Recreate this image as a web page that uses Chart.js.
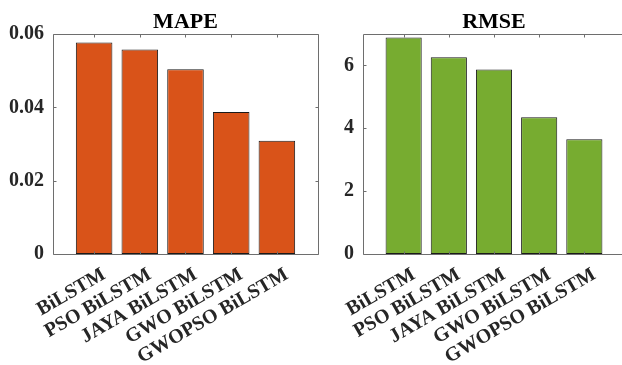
<!DOCTYPE html>
<html>
<head>
<meta charset="utf-8">
<script src="https://cdn.jsdelivr.net/npm/chart.js@4/dist/chart.umd.min.js"></script>
<style>
  html, body { margin: 0; padding: 0; background: #fff; }
  body { width: 622px; height: 365px; overflow: hidden; position: relative; }
  canvas { position: absolute; top: 0; }
  #mapeChart { left: 0; }
  #rmseChart { left: 310px; }
</style>
</head>
<body>
<canvas id="mapeChart" width="330" height="365"></canvas>
<canvas id="rmseChart" width="330" height="365"></canvas>
<script>
// Models compared
const categories = ['BiLSTM', 'PSO BiLSTM', 'JAYA BiLSTM', 'GWO BiLSTM', 'GWOPSO BiLSTM'];

// Error metrics per model
const mapeValues = [0.0577, 0.0558, 0.0504, 0.0387, 0.0309];
const rmseValues = [6.89, 6.26, 5.87, 4.35, 3.65];

// Y-axis tick values
const mapeTicks = [0, 0.02, 0.04, 0.06];
const rmseTicks = [0, 2, 4, 6];

const FONT = '"Liberation Serif", "Times New Roman", serif';
const TICK_LEN = 3;
const BOX_COLOR = '#6e6e6e';

// Draws the axes box plus inward tick marks on all four sides
const boxPlugin = {
  id: 'axesBox',
  afterDatasetsDraw(chart) {
    const { ctx, chartArea: a, scales } = chart;
    ctx.save();
    ctx.strokeStyle = BOX_COLOR;
    ctx.lineWidth = 1;
    const l = Math.round(a.left) + 0.5, r = Math.round(a.right) + 0.5;
    const t = Math.round(a.top) + 0.5, b = Math.round(a.bottom) + 0.5;
    ctx.beginPath();
    ctx.rect(l, t, r - l, b - t);
    scales.x.ticks.forEach(tk => {
      const x = Math.round(scales.x.getPixelForValue(tk.value)) + 0.5;
      ctx.moveTo(x, b); ctx.lineTo(x, b - TICK_LEN);
      ctx.moveTo(x, t); ctx.lineTo(x, t + TICK_LEN);
    });
    scales.y.ticks.forEach(tk => {
      const y = Math.round(scales.y.getPixelForValue(tk.value)) + 0.5;
      ctx.moveTo(l, y); ctx.lineTo(l + TICK_LEN, y);
      ctx.moveTo(r, y); ctx.lineTo(r - TICK_LEN, y);
    });
    ctx.stroke();
    ctx.restore();
  }
};

// Title centred over the plotting area
const axesTitlePlugin = {
  id: 'axesTitle',
  afterDraw(chart, args, opts) {
    const { ctx, chartArea: a } = chart;
    ctx.save();
    ctx.fillStyle = '#000';
    ctx.font = 'bold 22px ' + FONT;
    ctx.textAlign = 'center';
    ctx.textBaseline = 'middle';
    ctx.fillText(opts.text, (a.left + a.right) / 2, 22);
    ctx.restore();
  }
};

function makeChart(canvasId, title, values, yTicks, yMax, color, rightPad, fmt) {
  const data = values.map((v, i) => ({ x: i + 1, y: v }));
  return new Chart(document.getElementById(canvasId), {
    type: 'bar',
    data: {
      datasets: [{
        data,
        backgroundColor: color,
        borderColor: '#1a1a1a',
        borderWidth: 1,
        borderSkipped: false,
        barPercentage: 0.8,
        categoryPercentage: 1.0
      }]
    },
    options: {
      responsive: false,
      animation: false,
      devicePixelRatio: 1,
      layout: { padding: { left: 0, right: rightPad, top: 34, bottom: 0 } },
      plugins: {
        legend: { display: false },
        tooltip: { enabled: false },
        title: { display: false },
        axesTitle: { text: title }
      },
      scales: {
        x: {
          type: 'linear',
          offset: false,
          min: 0.1,
          max: 5.9,
          grid: { display: false, drawTicks: false, offset: false },
          border: { display: false },
          afterBuildTicks: s => { s.ticks = categories.map((c, i) => ({ value: i + 1 })); },
          afterFit: s => { s.height = 111; s.paddingLeft = 0; s.paddingRight = 0; },
          ticks: {
            autoSkip: false,
            minRotation: 30,
            maxRotation: 30,
            padding: 9,
            labelOffset: 10,
            color: '#262626',
            font: { family: FONT, size: 20, weight: 'bold' },
            callback: v => categories[Math.round(v) - 1]
          }
        },
        y: {
          min: 0,
          max: yMax,
          grid: { display: false, drawTicks: false },
          border: { display: false },
          afterBuildTicks: s => { s.ticks = yTicks.map(v => ({ value: v })); },
          afterFit: s => { s.width = 53; },
          ticks: {
            padding: 9,
            color: '#262626',
            font: { family: FONT, size: 20, weight: 'bold' },
            callback: fmt
          }
        }
      }
    },
    plugins: [boxPlugin, axesTitlePlugin]
  });
}

makeChart('mapeChart', 'MAPE', mapeValues, mapeTicks, 0.06, '#D95319', 12,
  v => (v === 0 ? '0' : v.toFixed(2)));
makeChart('rmseChart', 'RMSE', rmseValues, rmseTicks, 7, '#77AC30', 15,
  v => String(v));
</script>
</body>
</html>
